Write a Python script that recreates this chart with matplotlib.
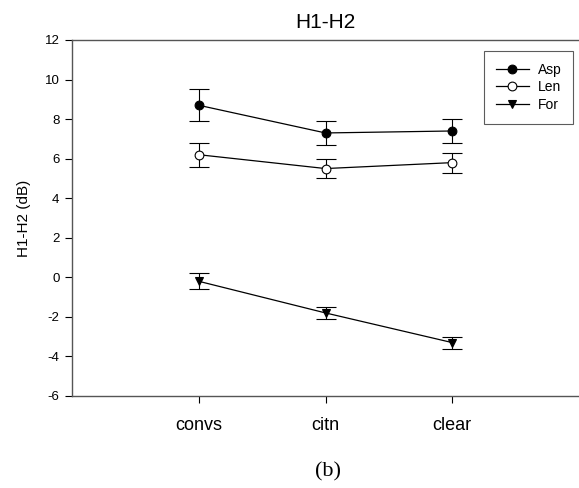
import matplotlib
matplotlib.use("Agg")
import matplotlib.pyplot as plt
from matplotlib.lines import Line2D
import numpy as np

# DATA ##########################################

categories = ["convs", "citn", "clear"]
asp_mean = [8.7, 7.3, 7.4]
asp_err = [0.8, 0.6, 0.6]
len_mean = [6.2, 5.5, 5.8]
len_err = [0.6, 0.5, 0.5]
for_mean = [-0.2, -1.8, -3.3]
for_err = [0.4, 0.3, 0.3]
yticks = [-6, -4, -2, 0, 2, 4, 6, 8, 10, 12]

# SETUP #########################################

plt.rcParams.update({
    "font.family": ["Liberation Sans", "DejaVu Sans"],
    "font.size": 9.5,
})

fig = plt.figure(figsize=(5.79, 4.88), dpi=100)
ax = fig.add_axes([72/579, 92/488, 1 - 72/579, 356/488])

x = np.arange(1, len(categories) + 1)

series = [
    (asp_mean, asp_err, "o", "black", "Asp"),
    (len_mean, len_err, "o", "white", "Len"),
    (for_mean, for_err, "v", "black", "For"),
]
handles = []
for mean, err, mk, fc, lab in series:
    ax.errorbar(
        x, mean, yerr=err,
        color="black", linewidth=0.9,
        marker=mk, markersize=6.3, markerfacecolor=fc, markeredgecolor="black",
        markeredgewidth=0.8,
        ecolor="black", elinewidth=0.8, capsize=7, capthick=0.8,
    )
    handles.append(Line2D([], [], color="black", linewidth=0.9, marker=mk,
                          markersize=6.3, markerfacecolor=fc,
                          markeredgecolor="black", markeredgewidth=0.8,
                          label=lab))

# AXES ##########################################

ax.set_xlim(0, 4)
ax.set_ylim(-6, 12)
ax.set_yticks(yticks)
ax.set_yticklabels([str(t) for t in yticks])
ax.set_xticks(x)
ax.set_xticklabels(categories, fontsize=13)
ax.tick_params(axis="y", direction="out", length=5, width=0.8, pad=4)
ax.tick_params(axis="x", direction="out", length=5, width=0.8, pad=10)

for side in ["left", "top", "bottom"]:
    ax.spines[side].set_color("#555555")
    ax.spines[side].set_linewidth(1.0)
ax.spines["right"].set_visible(False)

ax.set_ylabel("H1-H2 (dB)", fontsize=11, labelpad=10)
ax.set_title("H1-H2", fontsize=15, pad=9)

# LEGEND ########################################

leg = ax.legend(
    handles=handles,
    loc="upper left",
    bbox_to_anchor=((484 - 72) / 507, (396 - 51) / 356),
    borderaxespad=0,
    frameon=True, fancybox=False,
    edgecolor="#333333",
    handlelength=2.4, handletextpad=0.6,
    borderpad=0.85, labelspacing=0.25,
    fontsize=10,
)
leg.get_frame().set_linewidth(0.8)

# caption
fig.text(328/579, 1 - 472/488, "(b)", ha="center", va="center",
         fontsize=16, family=["Liberation Serif", "DejaVu Serif"])

fig.savefig("out.png", dpi=100)
